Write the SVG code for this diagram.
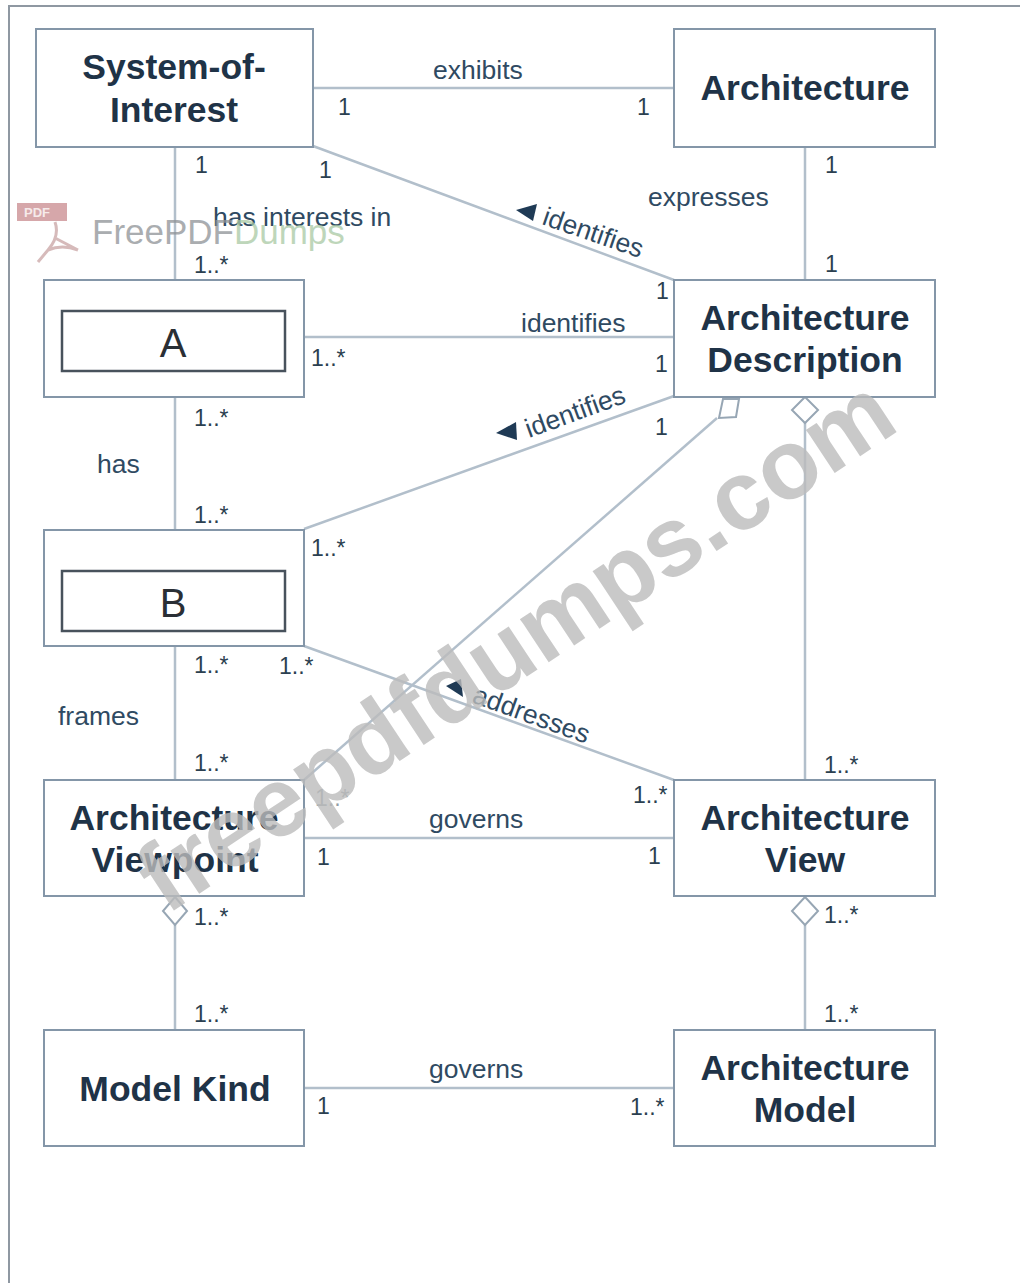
<svg xmlns="http://www.w3.org/2000/svg" width="1020" height="1283" viewBox="0 0 1020 1283">
<style>
text{font-family:"Liberation Sans",Arial,sans-serif}
.box{fill:#fff;stroke:#8496a8;stroke-width:2}
.inner{fill:#fff;stroke:#48525c;stroke-width:2.5}
.title{font-size:35.5px;font-weight:700;fill:#1f3347;text-anchor:middle}
.lab{font-size:26.5px;fill:#2f4a62}
.mul{font-size:23px;fill:#2b3f50}
.con{stroke:#b2bfcb;stroke-width:2.5;fill:none}
.dia{fill:#fff;stroke:#97a6b4;stroke-width:2}
.tri{fill:#1f3a55}
.wm{font-size:98px;font-weight:700;fill:#bcbcbc;fill-opacity:.8;text-anchor:middle}
</style>
<rect width="1020" height="1283" fill="#fff"/>
<path d="M9 1283V6H1020" fill="none" stroke="#8f98a2" stroke-width="2"/>
<g id="connectors">
<path class="con" d="M313 88H674"/>
<path class="con" d="M805 146V280"/>
<path class="con" d="M175 146V280"/>
<path class="con" d="M313 146L674 280"/>
<path class="con" d="M304 337H674"/>
<path class="con" d="M175 396V530"/>
<path class="con" d="M304 529L674 396"/>
<path class="con" d="M304 646L674 780"/>
<path class="con" d="M304 780L717 418" stroke-width="2"/>
<path class="con" d="M805 420V780"/>
<path class="con" d="M175 646V780"/>
<path class="con" d="M304 838H674"/>
<path class="con" d="M175 925V1030"/>
<path class="con" d="M805 925V1030"/>
<path class="con" d="M304 1088H674"/>
<path class="dia" d="M805 397L818 410L805 423L792 410Z"/>
<path class="dia" d="M175 897L187 911L175 925L163 911Z"/>
<path class="dia" d="M805 897L818 911L805 925L792 911Z"/>
<path class="dia" d="M723 399H739L736 417L719 418Z"/>
<path class="tri" d="M516 210L537 204L533 221Z"/>
<path class="tri" d="M496 433L516 422L517 440Z"/>
<path class="tri" d="M446 686L461 679L463 697Z"/>
</g>
<g id="system-of-interest"><rect class="box" x="36" y="29" width="277" height="118"/><text class="title" x="174" y="79">System-of-</text><text class="title" x="174" y="122">Interest</text></g>
<g id="architecture"><rect class="box" x="674" y="29" width="261" height="118"/><text class="title" x="805" y="100">Architecture</text></g>
<g id="a"><rect class="box" x="44" y="280" width="260" height="117"/><rect class="inner" x="62" y="311" width="223" height="60"/><text x="173" y="357" font-size="40" fill="#2a2f35" text-anchor="middle">A</text></g>
<g id="architecture-description"><rect class="box" x="674" y="280" width="261" height="117"/><text class="title" x="805" y="330">Architecture</text><text class="title" x="805" y="372">Description</text></g>
<g id="b"><rect class="box" x="44" y="530" width="260" height="116"/><rect class="inner" x="62" y="571" width="223" height="60"/><text x="173" y="617" font-size="40" fill="#2a2f35" text-anchor="middle">B</text></g>
<g id="architecture-viewpoint"><rect class="box" x="44" y="780" width="260" height="116"/><text class="title" x="174" y="830">Architecture</text><text class="title" x="175" y="872">Viewpoint</text></g>
<g id="architecture-view"><rect class="box" x="674" y="780" width="261" height="116"/><text class="title" x="805" y="830">Architecture</text><text class="title" x="805" y="872">View</text></g>
<g id="model-kind"><rect class="box" x="44" y="1030" width="260" height="116"/><text class="title" x="175" y="1101">Model Kind</text></g>
<g id="architecture-model"><rect class="box" x="674" y="1030" width="261" height="116"/><text class="title" x="805" y="1080">Architecture</text><text class="title" x="805" y="1122">Model</text></g>
<g id="labels">
<text class="lab" x="433" y="79">exhibits</text>
<text class="lab" x="648" y="206">expresses</text>
<text class="lab" x="213" y="226">has interests in</text>
<text class="lab" x="521" y="332">identifies</text>
<text class="lab" x="97" y="473">has</text>
<text class="lab" x="58" y="725">frames</text>
<text class="lab" x="429" y="828">governs</text>
<text class="lab" x="429" y="1078">governs</text>
<text class="lab" transform="translate(541 224) rotate(19)">identifies</text>
<text class="lab" transform="translate(529 438) rotate(-20)">identifies</text>
<text class="lab" transform="translate(471 702) rotate(20)">addresses</text>
<text class="mul" x="338" y="115">1</text><text class="mul" x="637" y="115">1</text>
<text class="mul" x="195" y="173">1</text><text class="mul" x="319" y="178">1</text>
<text class="mul" x="825" y="173">1</text><text class="mul" x="825" y="272">1</text>
<text class="mul" x="194" y="273">1..*</text><text class="mul" x="656" y="299" font-size="18">1</text>
<text class="mul" x="311" y="366">1..*</text><text class="mul" x="655" y="372">1</text>
<text class="mul" x="194" y="426">1..*</text><text class="mul" x="655" y="435">1</text>
<text class="mul" x="194" y="523">1..*</text><text class="mul" x="311" y="556">1..*</text>
<text class="mul" x="194" y="673">1..*</text><text class="mul" x="279" y="674">1..*</text>
<text class="mul" x="194" y="771">1..*</text><text class="mul" x="824" y="773">1..*</text>
<text class="mul" x="633" y="803">1..*</text><text class="mul" x="315" y="806" opacity=".5">1..*</text>
<text class="mul" x="317" y="865">1</text><text class="mul" x="648" y="864">1</text>
<text class="mul" x="194" y="925">1..*</text><text class="mul" x="824" y="923">1..*</text>
<text class="mul" x="194" y="1022">1..*</text><text class="mul" x="824" y="1022">1..*</text>
<text class="mul" x="317" y="1114">1</text><text class="mul" x="630" y="1115">1..*</text>
</g>
<text class="wm" transform="translate(534 672) rotate(-33.5)">freepdfdumps.com</text>
<g opacity=".75">
<rect x="17" y="203" width="50" height="18" fill="#c98a8e"/>
<text x="24" y="217" font-size="13" font-weight="700" fill="#f3e3e3">PDF</text>
<path d="M55 222Q60 236 48 250L38 262M55 238L78 250M48 250Q62 244 78 250" fill="none" stroke="#c9a4a4" stroke-width="3"/>
<text x="92" y="244" font-size="35" fill="#8e9296">FreePDF<tspan fill="#a9c9a4">Dumps</tspan></text>
</g>
</svg>
